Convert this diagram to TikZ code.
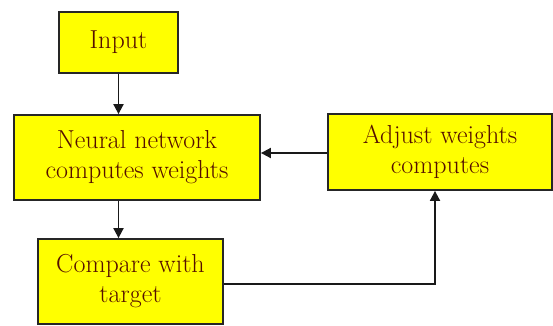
\documentclass[tikz,border=0pt]{standalone}
\usepackage{fontspec}
\usetikzlibrary{arrows.meta}
\definecolor{boxyellow}{RGB}{255,255,0}
\definecolor{txtred}{RGB}{85,15,0}
\begin{document}
\begin{tikzpicture}[x=1pt,y=-1pt,
  box/.style={draw=black!85, line width=1.8pt, fill=boxyellow, text=txtred,
    align=center, font=\rmfamily\fontsize{26}{30}\selectfont\addfontfeature{FakeBold=1}, inner sep=0pt},
  conn/.style={draw=black!90, line width=1.8pt, -{Triangle[length=10pt,width=10pt]}}]
\useasboundingbox (0,0) rectangle (553,325);
\node[box, minimum width=119pt, minimum height=61pt] (input) at (118.5,42.5) {Input};
\node[box, minimum width=246pt, minimum height=85pt] (nn) at (137,157.5) {Neural network\\computes weights};
\node[box, minimum width=185pt, minimum height=85pt] (cmp) at (130.5,281.5) {Compare with\\target};
\node[box, minimum width=224pt, minimum height=76pt] (adj) at (440,152) {Adjust weights\\computes};
\draw[conn] (input.south) -- (input.south |- nn.north);
\draw[conn] (input.south |- nn.south) -- (input.south |- cmp.north);
\draw[conn] ([yshift=-1pt]adj.west) -- ([yshift=-1pt]adj.west -| nn.east);
\draw[conn] ([yshift=-2.5pt]cmp.east) -| ([xshift=-5pt]adj.south);
\end{tikzpicture}
\end{document}
